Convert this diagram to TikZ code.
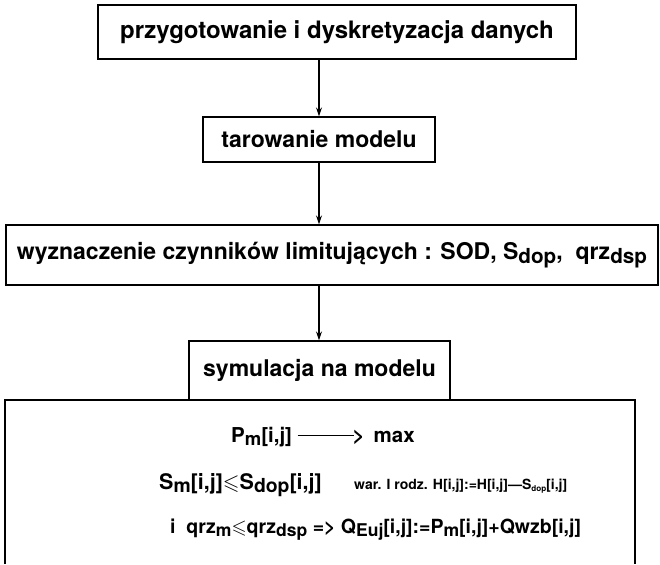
\documentclass[tikz,border=0pt]{standalone}
\usepackage{amsmath}
\usepackage{amssymb}
\usepackage{fontspec}
\usepackage{graphicx}
\setmainfont{TeX Gyre Heros}
\usetikzlibrary{arrows.meta}
% lowered, slightly smaller index text
\newcommand\lowidx[1]{\raisebox{-0.3ex}{\scalebox{0.9}{#1}}}
\newcommand\leqs{\ensuremath{\boldsymbol{\leqslant}}}
\tikzset{
  stepbox/.style={draw, line width=1.3pt, inner sep=0pt, font=\fontsize{23}{26}\selectfont\bfseries},
  flow/.style={line width=1.3pt, -{Stealth[length=9pt,width=6pt]}},
  bodytext/.style={font=\fontsize{20.5}{24}\selectfont\bfseries, inner sep=0pt},
  notetext/.style={font=\fontsize{14}{16}\selectfont\bfseries, inner sep=0pt}
}
\begin{document}
\begin{tikzpicture}[x=1pt,y=-1pt]
\useasboundingbox (0,0) rectangle (660,564);

\node[stepbox, minimum width=478pt, minimum height=54pt, font=\fontsize{24}{27}\selectfont\bfseries] (prep) at (337,32)
  {przygotowanie i dyskretyzacja danych};
\node[stepbox, minimum width=232pt, minimum height=45pt] (tar) at (319,139.5)
  {tarowanie modelu};
\node[stepbox, minimum width=652pt, minimum height=60pt] (lim) at (332,255)
  {wyznaczenie czynników limitujących : SOD, S\lowidx{dop}, \ qrz\lowidx{dsp}};
\node[stepbox, minimum width=261pt, minimum height=59pt] (sym) at (319.5,370.5)
  {symulacja na modelu};

% simulation body: open frame hanging below the "symulacja" box
\coordinate (bl) at (5,564);
\coordinate (tl) at (5,400);
\coordinate (tr) at (635,400);
\coordinate (br) at (635,564);
\draw[line width=1.3pt] (bl) -- (tl) -- (tr) -- (br);

\node[bodytext, anchor=west] (l1) at (231,437)
  {P\lowidx{m}[i,j] \rule[0.33em]{2.75em}{1pt}\kern-1.5pt> \,max};
\node[bodytext, anchor=west, font=\fontsize{21.5}{25}\selectfont\bfseries] (l2) at (159,485)
  {S\lowidx{m}[i,j]\leqs S\lowidx{dop}[i,j]};
\node[notetext, anchor=west] (l2n) at (354,486)
  {war. I rodz. H[i,j]:=H[i,j]---S\lowidx{\small dop}[i,j]};
\node[bodytext, anchor=west, font=\fontsize{19.5}{23}\selectfont\bfseries] (l3) at (170,530)
  {i \ qrz\lowidx{m}\leqs qrz\lowidx{dsp} => Q\lowidx{Euj}[i,j]:=P\lowidx{m}[i,j]+Qwzb[i,j]};

\draw[flow] (prep.south -| tar.north) -- (tar.north);
\draw[flow] (tar.south) -- (lim.north -| tar.south);
\draw[flow] (lim.south -| tar.south) -- (sym.north -| tar.south);
\end{tikzpicture}
\end{document}
